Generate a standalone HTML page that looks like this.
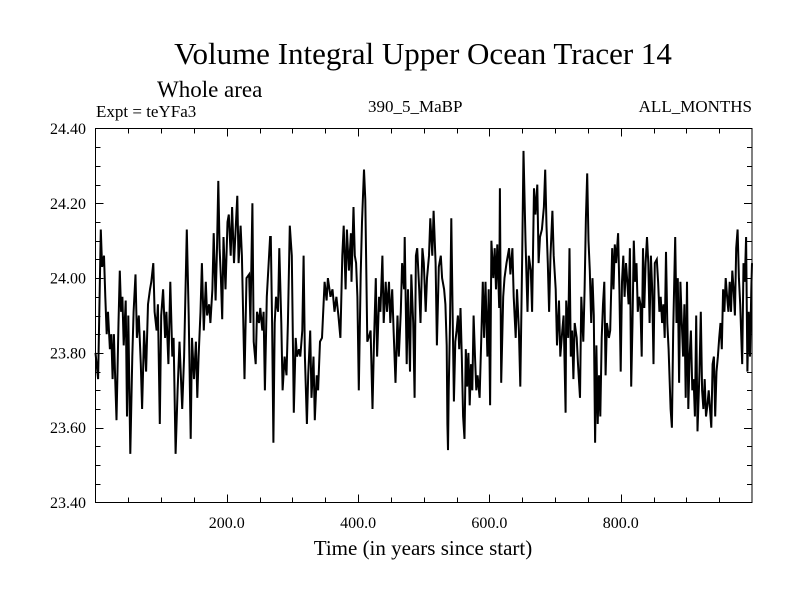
<!DOCTYPE html>
<html><head><meta charset="utf-8">
<style>
html,body{margin:0;padding:0;background:#fff;}
svg{display:block;}
text{font-family:"Liberation Serif",serif;fill:#000;}
</style></head>
<body>
<svg id="chart" width="800" height="600" viewBox="0 0 800 600" xmlns="http://www.w3.org/2000/svg">
<rect width="800" height="600" fill="#fff"/>
<text x="423" y="64" font-size="31" text-anchor="middle">Volume Integral Upper Ocean Tracer 14</text>
<text x="157" y="97" font-size="23">Whole area</text>
<text x="96" y="117" font-size="17">Expt = teYFa3</text>
<text x="368" y="112" font-size="17">390_5_MaBP</text>
<text x="752" y="112" font-size="17" text-anchor="end">ALL_MONTHS</text>
<text x="423" y="555" font-size="21" text-anchor="middle">Time (in years since start)</text>
<g id="axes"></g>
<g id="series"></g>
<rect x="95.5" y="128.5" width="656.5" height="374" fill="none" stroke="#000" stroke-width="1"/>
</svg>
<script>
const xTickValues=[200,400,600,800];
const xTickLabels=["200.0","400.0","600.0","800.0"];
const yTickValues=[23.4,23.6,23.8,24.0,24.2,24.4];
const yTickLabels=["23.40","23.60","23.80","24.00","24.20","24.40"];

const yearsA=[0,4,8,10,13,15,17,19,22,24,26,28,30,32,35,37,39,41,43,46,48,50,53,56,58,61,63,66,69,71,74,77,80,83,85,88,90,93,95,98,100,103,106,108,111,114,117,119,122,125,128,132,135,139,142,145,147,150,153,155,157,160,162,165,168,170,173,175,178,180,183,185,187,189,191,193,195,198,201,203,206,208,211,214,216,218,221,223,227,230,234,236,239,241,244,246,249,251,254,256,258,261,266];
const valuesA=[23.80,23.73,24.13,24.03,24.06,23.95,23.85,23.91,23.81,23.85,23.73,23.85,23.73,23.62,23.88,24.02,23.91,23.95,23.82,23.94,23.63,23.90,23.53,23.79,23.91,24.01,23.84,23.90,23.77,23.65,23.86,23.75,23.93,23.97,23.99,24.04,23.91,23.86,23.93,23.61,23.90,23.97,23.84,23.91,23.77,23.99,23.79,23.84,23.53,23.70,23.83,23.65,23.79,24.13,23.90,23.57,23.84,23.73,23.83,23.68,23.79,23.91,24.04,23.86,23.99,23.90,23.93,23.88,23.97,24.12,23.94,24.08,24.26,24.08,24.00,23.89,24.11,23.97,24.15,24.17,24.06,24.19,24.04,24.15,24.22,24.04,24.14,24.06,23.73,24.00,24.01,23.88,24.20,23.83,23.77,23.91,23.88,23.92,23.86,23.91,23.70,23.95,24.11];

const yearsB=[267,269,271,273,275,278,280,283,285,288,291,293,296,299,301,302,305,307,310,312,315,317,319,322,324,327,329,332,334,337,339,342,345,349,352,354,358,361,364,367,370,373,376,378,381,383,386,389,390,393,395,397,399,401,404,406,409,411,414,416,419,422,424,427,429,432,434,437,439,442,444,447,449,452,454,457,460,462,465,467,470,471,474,476,479,481,484,486,488,490,493,495,498,500,503,505,508,510,513,515,518,520,523];
const valuesB=[24.11,23.88,23.56,23.88,23.95,23.91,24.08,23.88,23.70,23.79,23.74,23.88,24.14,24.06,23.79,23.64,23.84,23.79,23.81,23.79,23.86,24.06,23.79,23.61,23.74,23.86,23.68,23.79,23.62,23.74,23.70,23.83,23.84,23.99,23.94,24.00,23.95,23.97,23.91,23.95,23.90,23.84,24.06,24.14,23.97,24.13,24.02,24.12,23.99,24.19,24.06,24.04,23.95,23.70,24.01,24.15,24.29,24.21,23.83,23.84,23.86,23.65,23.82,24.00,23.79,23.95,23.91,24.06,23.88,23.99,23.91,23.99,23.88,23.97,23.86,23.72,23.90,23.79,23.91,24.04,23.97,24.11,23.77,23.97,23.75,24.01,23.88,23.68,24.06,24.08,23.97,23.88,24.08,24.04,23.91,24.00,24.06,24.16,24.06,24.18,24.04,23.82,24.03];

const yearsC=[526,528,531,533,535,536,537,538,540,542,544,546,548,550,552,554,556,558,560,562,564,566,568,570,572,574,576,578,580,582,585,588,590,592,594,597,599,601,603,606,608,610,612,615,616,618,621,623,626,630,632,635,637,640,642,645,647,650,652,655,658,660,663,665,668,670,673,675,677,680,683,685,687,689,691,693,696,698,701,703,706,708,711,713,716,717,720,722,724,726,728,730,733,735,738,740,743,745,747,749,751,753,755,757,759,761,763,765,767,769,771,773,775,777,779,782];
const valuesC=[24.06,24.00,23.97,23.93,23.82,23.61,23.54,23.70,23.88,24.16,23.91,23.67,23.83,23.86,23.90,23.81,23.92,23.79,23.63,23.57,23.81,23.71,23.80,23.66,23.77,23.70,23.90,23.79,23.70,23.74,23.68,23.86,23.99,23.84,23.99,23.79,23.97,23.66,24.10,24.00,24.08,23.97,24.09,23.92,24.24,23.72,23.95,24.00,24.04,24.08,24.01,24.08,23.95,23.84,23.97,23.86,23.71,24.06,24.34,24.10,23.91,24.06,24.02,23.91,24.24,24.17,24.25,24.04,24.11,24.13,24.19,24.29,24.14,24.04,23.91,24.06,24.18,24.06,23.97,23.82,23.94,23.79,23.86,23.90,23.64,23.94,23.84,24.08,23.79,23.86,23.73,23.88,23.84,23.77,23.68,23.95,23.83,23.97,24.16,24.28,24.10,24.02,23.88,24.00,23.90,23.56,23.82,23.61,23.74,23.63,23.84,23.93,23.99,23.74,23.88,23.84];

const yearsD=[784,787,789,791,793,796,798,800,802,804,806,808,810,812,814,816,818,820,822,824,826,828,830,832,834,836,838,840,842,844,846,848,850,852,855,857,859,861,863,865,867,869,871,873,876,878,880,883,885,887,889,891,893,895,897,899,901,903,905,907,909,911,913,915,917,920,922,924,926,928,930,932,934,936,938,940,942,944,946,948,950,952,954,956,958,960,962,964,966,968,970,972,974,976,978,980,982,985,987,989,991,993,995,997,999,1000];
const valuesD=[23.86,24.08,23.97,24.09,24.04,24.12,23.97,23.75,23.99,24.06,23.95,24.04,23.99,23.93,24.08,23.71,23.88,24.10,23.99,24.04,23.91,23.95,23.93,23.79,24.08,23.92,24.04,24.11,24.04,23.88,24.06,23.97,23.77,24.04,24.05,23.99,23.91,23.95,23.88,23.93,23.84,24.07,23.88,23.81,23.65,23.60,23.86,24.11,23.88,24.00,23.72,23.99,23.88,23.79,23.93,23.68,23.99,23.65,23.79,23.86,23.70,23.73,23.63,23.90,23.59,23.75,23.91,23.70,23.65,23.73,23.63,23.66,23.70,23.65,23.60,23.77,23.79,23.63,23.75,23.79,23.84,23.88,23.81,23.97,23.91,24.00,23.95,23.91,23.99,23.91,24.02,23.97,23.90,24.08,24.13,24.00,23.93,23.77,24.04,23.99,24.11,23.75,23.91,23.79,23.97,24.04];

const years=yearsA.concat(yearsB,yearsC,yearsD);
const values=valuesA.concat(valuesB,valuesC,valuesD);

const X0=95.5,X1=752,Y0=502.5,Y1=128.5;
const xMin=0,xMax=1000,yMin=23.4,yMax=24.4;
function sx(v){return X0+(v-xMin)/(xMax-xMin)*(X1-X0);}
function sy(v){return Y0-(v-yMin)/(yMax-yMin)*(Y0-Y1);}
const NS="http://www.w3.org/2000/svg";
const axes=document.getElementById('axes');
function line(x1,y1,x2,y2,name){
  const l=document.createElementNS(NS,'line');
  l.setAttribute('x1',x1);l.setAttribute('y1',y1);l.setAttribute('x2',x2);l.setAttribute('y2',y2);
  l.setAttribute('stroke','#000');l.setAttribute('stroke-width','1');
  
  
  axes.appendChild(l);
}
for(let v=50;v<xMax;v+=50){
  const major=xTickValues.indexOf(v)>=0;
  const len=major?8:5;
  const x=Math.round(sx(v))+0.5;
  line(x,Y0,x,Y0-len,'x-tick');
  line(x,Y1,x,Y1+len,'x-tick-top');
}
xTickValues.forEach((v,i)=>{
  const t=document.createElementNS(NS,'text');
  t.setAttribute('x',sx(v));t.setAttribute('y',528);
  t.setAttribute('font-size','16');t.setAttribute('text-anchor','middle');
  t.textContent=xTickLabels[i];
  
  
  axes.appendChild(t);
});
for(let k=1;k<20;k++){
  const v=yMin+k*0.05;
  const major=(k%4===0);
  const len=major?8:5;
  const y=Math.round(sy(v))+0.5;
  line(X0,y,X0+len,y,'y-tick');
  line(X1,y,X1-len,y,'y-tick-right');
}
yTickValues.forEach((v,i)=>{
  const t=document.createElementNS(NS,'text');
  t.setAttribute('x',86);t.setAttribute('y',sy(v)+5.5);
  t.setAttribute('font-size','16');t.setAttribute('text-anchor','end');
  t.textContent=yTickLabels[i];
  
  
  axes.appendChild(t);
});
let d='';
for(let i=0;i<years.length;i++){
  d+=(i?'L':'M')+sx(years[i]).toFixed(1)+' '+sy(values[i]).toFixed(1);
}
const p=document.createElementNS(NS,'path');
p.setAttribute('d',d);p.setAttribute('fill','none');p.setAttribute('stroke','#000');
p.setAttribute('stroke-width','2');p.setAttribute('stroke-linejoin','miter');


document.getElementById('series').appendChild(p);
</script>
</body></html>
